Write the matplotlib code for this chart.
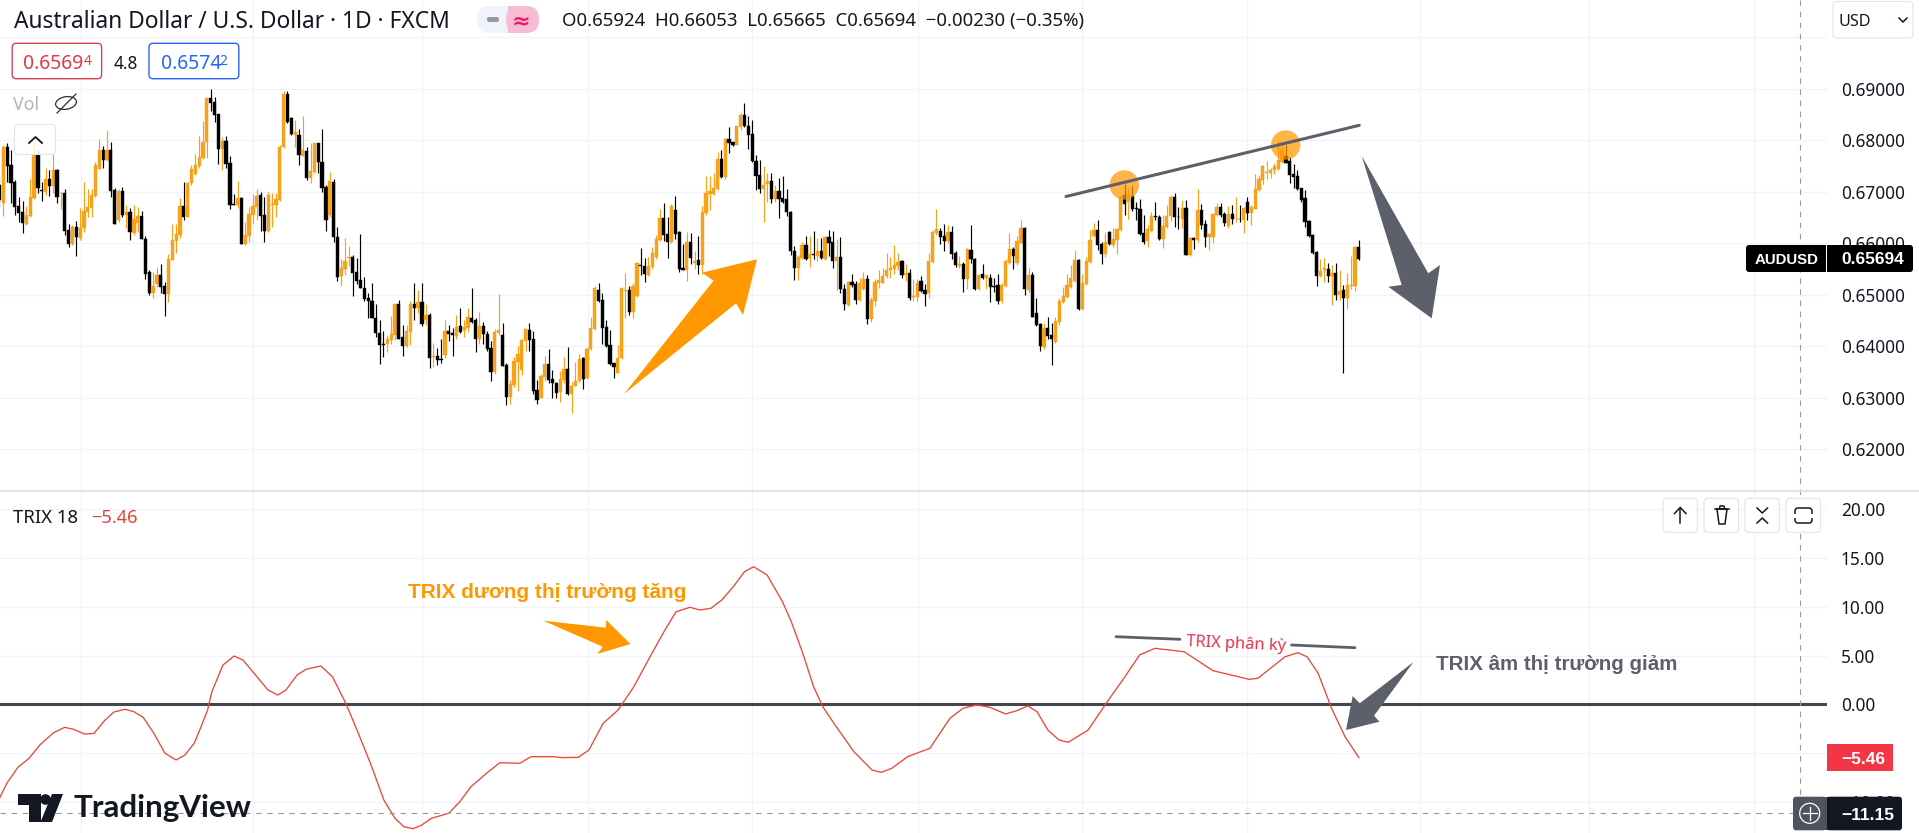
import matplotlib
matplotlib.use("Agg")
import matplotlib.pyplot as plt
import numpy as np
from matplotlib.patches import Circle, Ellipse, FancyBboxPatch, Polygon, Rectangle

plt.rcParams["font.family"] = ["Noto Sans", "DejaVu Sans"]

W, H = 1919, 833

# AUDUSD daily candles, in 1/10000 of a dollar
opens = [
    6713, 6679, 6787, 6752, 6718, 6672, 6660, 6638, 6653, 6687,
    6771, 6703, 6699, 6725, 6711, 6742, 6697, 6697, 6626, 6598,
    6631, 6611, 6629, 6661, 6668, 6692, 6745, 6781, 6761, 6781,
    6703, 6645, 6701, 6655, 6660, 6619, 6640, 6653, 6609, 6545,
    6503, 6520, 6538, 6517, 6501, 6567, 6604, 6616, 6672, 6651,
    6716, 6735, 6750, 6766, 6796, 6882, 6875, 6850, 6783, 6798,
    6755, 6677, 6675, 6687, 6598, 6614, 6655, 6671, 6693, 6655,
    6624, 6675, 6674, 6684, 6786, 6889, 6844, 6810, 6811, 6770,
    6780, 6726, 6739, 6794, 6757, 6710, 6654, 6718, 6613, 6536,
    6550, 6571, 6574, 6544, 6529, 6514, 6494, 6488, 6455, 6426,
    6404, 6404, 6412, 6422, 6482, 6418, 6401, 6428, 6482, 6474,
    6486, 6450, 6461, 6380, 6381, 6375, 6383, 6430, 6425, 6420,
    6439, 6432, 6436, 6455, 6450, 6414, 6439, 6424, 6397, 6350,
    6425, 6422, 6364, 6302, 6325, 6370, 6354, 6411, 6432, 6414,
    6315, 6300, 6340, 6366, 6336, 6328, 6312, 6335, 6355, 6307,
    6322, 6333, 6377, 6338, 6394, 6434, 6509, 6490, 6437, 6403,
    6368, 6349, 6377, 6508, 6509, 6467, 6498, 6557, 6556, 6539,
    6553, 6574, 6607, 6649, 6618, 6602, 6665, 6621, 6552, 6548,
    6602, 6562, 6568, 6558, 6658, 6696, 6695, 6706, 6764, 6728,
    6803, 6796, 6791, 6825, 6848, 6828, 6812, 6760, 6733, 6706,
    6715, 6721, 6686, 6702, 6687, 6685, 6661, 6585, 6552, 6571,
    6597, 6571, 6579, 6576, 6585, 6569, 6612, 6603, 6565, 6574,
    6512, 6480, 6524, 6521, 6489, 6511, 6530, 6453, 6488, 6522,
    6523, 6536, 6548, 6550, 6555, 6566, 6539, 6543, 6496, 6495,
    6526, 6509, 6504, 6564, 6619, 6624, 6614, 6604, 6621, 6581,
    6555, 6559, 6531, 6587, 6570, 6511, 6540, 6532, 6533, 6516,
    6518, 6488, 6517, 6562, 6588, 6562, 6601, 6630, 6510, 6538,
    6464, 6443, 6399, 6436, 6422, 6409, 6447, 6486, 6495, 6515,
    6527, 6567, 6472, 6520, 6564, 6614, 6626, 6599, 6579, 6621,
    6597, 6606, 6626, 6694, 6681, 6692, 6668, 6666, 6619, 6605,
    6624, 6652, 6650, 6608, 6632, 6652, 6689, 6651, 6647, 6668,
    6577, 6611, 6606, 6664, 6637, 6613, 6613, 6655, 6670, 6657,
    6633, 6657, 6647, 6648, 6646, 6681, 6658, 6666, 6703, 6723,
    6736, 6737, 6742, 6745, 6758, 6769, 6760, 6734, 6730, 6707,
    6687, 6644, 6616, 6583, 6536, 6549, 6550, 6537, 6543, 6499,
    6509, 6493, 6517, 6517, 6593,
]
highs = [
    6730, 6790, 6794, 6781, 6722, 6690, 6682, 6673, 6725, 6797,
    6781, 6719, 6747, 6742, 6774, 6745, 6700, 6706, 6638, 6635,
    6643, 6668, 6718, 6705, 6706, 6757, 6803, 6789, 6820, 6796,
    6708, 6706, 6710, 6674, 6668, 6674, 6671, 6662, 6615, 6548,
    6545, 6554, 6559, 6525, 6580, 6638, 6638, 6687, 6718, 6719,
    6752, 6774, 6809, 6837, 6882, 6900, 6883, 6850, 6807, 6808,
    6770, 6695, 6721, 6689, 6642, 6671, 6695, 6706, 6699, 6690,
    6699, 6697, 6697, 6790, 6895, 6896, 6846, 6839, 6821, 6847,
    6787, 6795, 6797, 6795, 6821, 6713, 6739, 6724, 6632, 6569,
    6611, 6595, 6577, 6571, 6618, 6534, 6503, 6522, 6482, 6451,
    6430, 6422, 6459, 6482, 6490, 6441, 6441, 6487, 6522, 6509,
    6522, 6482, 6464, 6406, 6396, 6415, 6451, 6441, 6435, 6461,
    6475, 6450, 6475, 6513, 6454, 6466, 6448, 6430, 6410, 6433,
    6502, 6445, 6367, 6335, 6380, 6401, 6415, 6435, 6445, 6430,
    6335, 6346, 6381, 6394, 6354, 6330, 6351, 6379, 6399, 6331,
    6370, 6385, 6380, 6399, 6456, 6516, 6522, 6503, 6451, 6432,
    6368, 6403, 6513, 6542, 6517, 6522, 6564, 6590, 6571, 6574,
    6592, 6616, 6666, 6678, 6650, 6676, 6692, 6623, 6599, 6621,
    6620, 6584, 6614, 6673, 6731, 6731, 6736, 6777, 6781, 6805,
    6825, 6796, 6828, 6852, 6872, 6847, 6839, 6772, 6762, 6749,
    6736, 6736, 6713, 6726, 6731, 6705, 6663, 6595, 6577, 6603,
    6614, 6615, 6623, 6610, 6610, 6614, 6625, 6623, 6609, 6612,
    6520, 6527, 6540, 6527, 6533, 6544, 6538, 6495, 6530, 6549,
    6551, 6581, 6574, 6596, 6582, 6567, 6559, 6550, 6531, 6531,
    6536, 6521, 6581, 6625, 6667, 6629, 6638, 6635, 6633, 6585,
    6575, 6564, 6590, 6635, 6572, 6540, 6559, 6538, 6541, 6533,
    6540, 6522, 6570, 6620, 6592, 6614, 6645, 6632, 6553, 6544,
    6494, 6445, 6446, 6456, 6445, 6457, 6493, 6515, 6540, 6557,
    6587, 6570, 6540, 6574, 6625, 6639, 6645, 6603, 6622, 6624,
    6629, 6629, 6694, 6715, 6708, 6711, 6681, 6686, 6655, 6635,
    6661, 6681, 6655, 6655, 6674, 6694, 6698, 6671, 6684, 6684,
    6613, 6613, 6705, 6676, 6645, 6619, 6658, 6679, 6679, 6661,
    6672, 6674, 6689, 6674, 6670, 6689, 6674, 6734, 6732, 6752,
    6760, 6747, 6755, 6800, 6797, 6791, 6768, 6754, 6743, 6708,
    6703, 6646, 6617, 6584, 6569, 6571, 6562, 6558, 6561, 6548,
    6519, 6542, 6575, 6595, 6606,
]
lows = [
    6670, 6653, 6719, 6679, 6655, 6642, 6620, 6635, 6650, 6686,
    6697, 6682, 6693, 6692, 6697, 6679, 6667, 6616, 6593, 6596,
    6576, 6607, 6622, 6651, 6651, 6690, 6745, 6747, 6759, 6690,
    6637, 6642, 6651, 6630, 6606, 6616, 6622, 6608, 6530, 6499,
    6493, 6515, 6503, 6459, 6486, 6567, 6582, 6611, 6645, 6650,
    6714, 6732, 6747, 6763, 6765, 6857, 6836, 6754, 6742, 6747,
    6666, 6674, 6669, 6598, 6596, 6603, 6638, 6645, 6624, 6602,
    6622, 6632, 6651, 6682, 6785, 6833, 6810, 6787, 6752, 6769,
    6723, 6717, 6736, 6736, 6700, 6624, 6651, 6603, 6527, 6516,
    6538, 6556, 6498, 6521, 6514, 6487, 6455, 6454, 6417, 6366,
    6380, 6388, 6404, 6412, 6414, 6382, 6399, 6403, 6451, 6464,
    6439, 6441, 6357, 6359, 6364, 6367, 6378, 6410, 6381, 6414,
    6425, 6417, 6428, 6445, 6388, 6404, 6404, 6390, 6333, 6346,
    6422, 6362, 6286, 6288, 6320, 6314, 6344, 6390, 6390, 6307,
    6288, 6300, 6333, 6328, 6299, 6299, 6291, 6328, 6306, 6271,
    6322, 6331, 6317, 6336, 6393, 6432, 6486, 6404, 6399, 6364,
    6339, 6348, 6375, 6454, 6461, 6454, 6496, 6539, 6524, 6537,
    6550, 6569, 6605, 6605, 6572, 6600, 6608, 6545, 6548, 6527,
    6560, 6550, 6541, 6540, 6655, 6665, 6693, 6704, 6726, 6725,
    6776, 6788, 6790, 6820, 6825, 6783, 6757, 6704, 6698, 6642,
    6680, 6679, 6680, 6649, 6679, 6652, 6577, 6528, 6528, 6570,
    6568, 6553, 6570, 6566, 6570, 6567, 6575, 6551, 6509, 6504,
    6470, 6478, 6515, 6482, 6488, 6509, 6443, 6447, 6478, 6513,
    6522, 6533, 6533, 6541, 6548, 6533, 6527, 6489, 6488, 6488,
    6506, 6478, 6494, 6562, 6616, 6598, 6585, 6601, 6570, 6553,
    6551, 6506, 6512, 6562, 6510, 6510, 6530, 6512, 6486, 6506,
    6482, 6484, 6515, 6559, 6550, 6557, 6601, 6499, 6506, 6456,
    6439, 6390, 6394, 6415, 6363, 6407, 6441, 6483, 6493, 6513,
    6525, 6471, 6470, 6519, 6562, 6613, 6587, 6560, 6574, 6597,
    6593, 6580, 6624, 6655, 6648, 6663, 6646, 6616, 6598, 6593,
    6622, 6645, 6607, 6590, 6629, 6644, 6631, 6627, 6629, 6577,
    6576, 6589, 6603, 6627, 6593, 6587, 6600, 6653, 6650, 6633,
    6629, 6637, 6642, 6642, 6620, 6645, 6635, 6666, 6702, 6715,
    6724, 6726, 6734, 6743, 6756, 6755, 6716, 6707, 6703, 6681,
    6632, 6613, 6580, 6516, 6535, 6525, 6525, 6480, 6490, 6490,
    6349, 6472, 6511, 6508, 6567,
]
closes = [
    6684, 6787, 6750, 6717, 6671, 6659, 6640, 6655, 6690, 6774,
    6708, 6701, 6724, 6712, 6742, 6690, 6698, 6624, 6599, 6632,
    6613, 6630, 6662, 6671, 6693, 6752, 6781, 6761, 6781, 6701,
    6638, 6701, 6655, 6661, 6621, 6648, 6653, 6609, 6541, 6503,
    6517, 6538, 6515, 6501, 6569, 6606, 6618, 6672, 6651, 6717,
    6744, 6752, 6768, 6797, 6882, 6873, 6849, 6783, 6798, 6754,
    6675, 6675, 6687, 6598, 6616, 6656, 6673, 6692, 6653, 6624,
    6693, 6676, 6685, 6787, 6889, 6836, 6813, 6816, 6771, 6781,
    6726, 6741, 6794, 6757, 6708, 6645, 6720, 6613, 6535, 6551,
    6566, 6573, 6543, 6527, 6514, 6492, 6487, 6454, 6425, 6403,
    6403, 6415, 6424, 6482, 6415, 6401, 6430, 6482, 6475, 6486,
    6443, 6461, 6378, 6381, 6373, 6373, 6430, 6424, 6421, 6438,
    6428, 6438, 6456, 6447, 6415, 6439, 6423, 6395, 6350, 6428,
    6432, 6362, 6302, 6327, 6371, 6385, 6412, 6433, 6412, 6314,
    6295, 6342, 6366, 6335, 6328, 6310, 6336, 6355, 6307, 6323,
    6333, 6375, 6337, 6395, 6435, 6513, 6487, 6435, 6401, 6365,
    6359, 6377, 6513, 6509, 6467, 6516, 6561, 6556, 6541, 6555,
    6581, 6608, 6649, 6616, 6603, 6673, 6618, 6550, 6549, 6602,
    6571, 6566, 6558, 6660, 6697, 6702, 6707, 6764, 6728, 6803,
    6795, 6791, 6827, 6848, 6827, 6810, 6759, 6731, 6706, 6713,
    6721, 6686, 6702, 6686, 6681, 6660, 6584, 6552, 6574, 6597,
    6570, 6579, 6578, 6585, 6572, 6612, 6601, 6565, 6574, 6511,
    6482, 6525, 6519, 6490, 6523, 6530, 6453, 6489, 6524, 6528,
    6537, 6549, 6551, 6557, 6563, 6539, 6543, 6493, 6497, 6523,
    6508, 6502, 6566, 6622, 6627, 6612, 6605, 6621, 6580, 6557,
    6559, 6530, 6588, 6569, 6512, 6538, 6532, 6538, 6515, 6515,
    6488, 6519, 6566, 6588, 6575, 6605, 6630, 6511, 6538, 6457,
    6441, 6400, 6436, 6420, 6414, 6449, 6488, 6497, 6519, 6532,
    6567, 6472, 6523, 6565, 6606, 6626, 6597, 6580, 6603, 6598,
    6608, 6628, 6690, 6677, 6693, 6666, 6667, 6618, 6603, 6627,
    6653, 6650, 6608, 6633, 6653, 6690, 6650, 6650, 6668, 6577,
    6611, 6606, 6664, 6635, 6613, 6618, 6657, 6670, 6655, 6640,
    6656, 6647, 6648, 6647, 6668, 6659, 6670, 6705, 6724, 6749,
    6739, 6743, 6750, 6762, 6782, 6756, 6732, 6729, 6705, 6683,
    6642, 6614, 6582, 6537, 6546, 6551, 6537, 6543, 6499, 6507,
    6493, 6519, 6519, 6593, 6569,
]

# TRIX line vertices: bar number and value
trix_bar = [
    0, 1.9, 4.8, 7.7, 10.5, 14.1, 17, 19.3, 22.2, 24.6, 27.5, 29.8, 32.7, 35,
    37.4, 40.2, 43.1, 46, 48.3, 50.7, 52.5, 54.2, 55.3, 58.2, 61.1, 63.4, 66.3,
    69.9, 72.5, 74.6, 77.5, 79.8, 83.7, 86.7, 90.2, 93.1, 96.6, 100.1, 103,
    105.3, 107.7, 110, 112.4, 117, 119.9, 122.8, 126.8, 130.3, 135.5, 138.4,
    144.3, 146.6, 150.7, 153.5, 157.2, 161.1, 165.2, 169.9, 173.3, 176.2, 179.8,
    182.4, 185.3, 188.1, 191.1, 194, 196.4, 199.9, 203.9, 206.2, 209.2, 212,
    214.4, 217.3, 222.5, 227.2, 229.6, 232.4, 236.5, 242.3, 247.5, 250.9, 254.5,
    257.9, 262, 264.9, 267.8, 270.2, 273, 275.9, 278.3, 283.5, 288.8, 292.8,
    296.9, 300.9, 308.5, 316, 325.4, 327.7, 334.8, 338.1, 340.5, 343.4, 346.9,
    350.4, 354,
]
trix_val = [
    -9.64, -8.1, -6.46, -5.54, -4.17, -2.91, -2.36, -2.57, -3.05, -2.98, -1.61,
    -0.79, -0.51, -0.76, -1.33, -2.97, -5.03, -5.71, -5.2, -4.0, -2.3, -0.58,
    1.29, 4.03, 4.95, 4.54, 3.18, 1.47, 0.95, 1.47, 3.0, 3.59, 3.93, 2.83, 0.1,
    -2.64, -6.05, -9.82, -11.7, -12.55, -12.76, -12.38, -11.7, -11.18, -9.98,
    -8.45, -7.08, -5.99, -6.05, -5.37, -5.37, -5.47, -5.44, -4.69, -1.95, -0.58,
    1.81, 5.23, 7.62, 9.5, 9.95, 9.67, 9.85, 10.7, 12.06, 13.6, 14.11, 13.26,
    10.52, 8.47, 5.23, 1.81, -0.25, -1.95, -4.86, -6.74, -6.98, -6.56, -5.37,
    -4.51, -1.44, -0.41, -0.07, -0.31, -0.99, -0.66, -0.17, -0.76, -2.64, -3.66,
    -3.9, -2.64, 0.44, 2.67, 5.06, 5.74, 5.39, 3.45, 2.56, 2.67, 4.88, 5.29,
    4.88, 3.18, -0.41, -3.32, -5.46,
]

grid_bars = [21.1, 66.1, 110.1, 153.2, 196, 239.1, 281.9, 324.9, 369.9, 413.9, 456.9]
price_ticks = [0.69, 0.68, 0.67, 0.66, 0.65, 0.64, 0.63, 0.62]
trix_ticks = [20, 15, 10, 5, 0]
trix_grid = [20, 15, 10, 5, 0, -5, -10]

ORANGE = "#f7a21b"
ARROW_ORANGE = "#ff9800"
SLATE = "#5d606b"
INK = "#131722"
GRID = "#f0f3fa"
RED = "#f23645"
BLUE = "#2962ff"
BOLD = "Liberation Sans"

fig = plt.figure(figsize=(W / 100, H / 100), dpi=100, facecolor="white")

PANE_R = 1826.7
SEP_Y = 490.7
BAR_PX = 3.84
BAR0_PX = -0.51
xlim = ((0 - BAR0_PX) / BAR_PX, (PANE_R - BAR0_PX) / BAR_PX)

# price pane
ax = fig.add_axes([0, 1 - SEP_Y / H, PANE_R / W, SEP_Y / H])
ax.set_xlim(xlim)
ax.set_ylim(0.69 - (SEP_Y - 88.7) / 5151, 0.69 + 88.7 / 5151)
ax.axis("off")
for p in price_ticks + [0.70]:
    ax.axhline(p, color=GRID, lw=0.9, zorder=1)
for b in grid_bars:
    ax.axvline(b, color=GRID, lw=0.9, zorder=1)

o = np.array(opens) / 10000
h = np.array(highs) / 10000
l = np.array(lows) / 10000
c = np.array(closes) / 10000
bars = np.arange(len(o))
colors = [ORANGE if cc >= oo else "black" for oo, cc in zip(o, c)]
ax.vlines(bars, l, h, colors=colors, lw=0.85, zorder=2)
ax.bar(bars, np.abs(c - o), bottom=np.minimum(o, c), width=0.84, color=colors,
       edgecolor=colors, lw=0.3, zorder=3)

# TRIX pane
ax2 = fig.add_axes([0, 0, PANE_R / W, (H - SEP_Y - 1.5) / H])
ax2.set_xlim(xlim)
ax2.set_ylim((704.3 - H) / 9.75, (704.3 - SEP_Y - 1.5) / 9.75)
ax2.axis("off")
for v in trix_grid:
    ax2.axhline(v, color=GRID, lw=0.9, zorder=1)
for b in grid_bars:
    ax2.axvline(b, color=GRID, lw=0.9, zorder=1)
ax2.plot(trix_bar, trix_val, color="#e8483b", lw=0.95, zorder=3)
ax2.axhline(0, color="#434651", lw=2.2, zorder=2)

# everything else sits on a pixel overlay
ov = fig.add_axes([0, 0, 1, 1], facecolor="none", zorder=5)
ov.set_xlim(0, W)
ov.set_ylim(H, 0)
ov.axis("off")


def txt(x, y, s, size=12.4, color=INK, ha="left", weight="normal", rot=0, font=None, z=8):
    kw = {"family": font} if font else {}
    return ov.text(x, y, s, fontsize=size, color=color, ha=ha, va="center_baseline",
                   fontweight=weight, rotation=rot, rotation_mode="anchor", zorder=z, **kw)


def rbox(x0, y0, x1, y1, fc="white", ec="#e0e3eb", lw=0.8, r=4, z=6):
    ov.add_patch(FancyBboxPatch((x0 + r, y0 + r), x1 - x0 - 2 * r, y1 - y0 - 2 * r,
                                boxstyle=f"round,pad={r},rounding_size={r}", fc=fc, ec=ec, lw=lw, zorder=z))


# crosshair
ov.plot([1800.4, 1800.4], [0, 797], color="#9598a1", lw=0.8, dashes=(5, 5), zorder=4)
ov.plot([0, 1793], [813.3, 813.3], color="#9598a1", lw=0.8, dashes=(5, 5), zorder=4)

# pane separator
ov.add_patch(Rectangle((0, 489.7), W, 2.2, fc="#e0e3eb", ec="none", zorder=4))

# header
txt(13.5, 19, "Australian Dollar / U.S. Dollar · 1D · FXCM", size=16.4)
ov.add_patch(FancyBboxPatch((484, 13), 48, 13, boxstyle="round,pad=7,rounding_size=13",
                            fc="#f0f3fa", ec="none", zorder=5))
ov.add_patch(FancyBboxPatch((513, 13), 19, 13, boxstyle="round,pad=7,rounding_size=13",
                            fc="#f7bbd3", ec="none", zorder=6))
ov.add_patch(Rectangle((508, 6), 12, 27, fc="#f7bbd3", ec="none", zorder=6))
ov.add_patch(FancyBboxPatch((488, 18), 10, 3, boxstyle="round,pad=1,rounding_size=2",
                            fc="#9598a1", ec="none", zorder=7))
txt(521, 19, "≈", size=16, color="#e91e63", ha="center", weight="bold", font="DejaVu Sans")
txt(562.5, 19, "O0.65924  H0.66053  L0.65665  C0.65694  −0.00230 (−0.35%)", size=13.4)

# bid / ask boxes
rbox(12.2, 43.3, 101.6, 78.7, ec="#d9404f", lw=1.0)
txt(23.5, 61.5, "0.6569", size=13.9, color="#e0394a")
txt(83.4, 59.5, "4", size=10, color="#e0394a")
txt(114, 62, "4.8", size=12.4)
rbox(149, 43.3, 238.8, 78.7, ec=BLUE, lw=1.0)
txt(160.5, 61.5, "0.6574", size=13.9, color=BLUE)
txt(219.5, 59.5, "2", size=10, color=BLUE)

# Vol row
txt(13, 103, "Vol", size=12.8, color="#b2b5be")
ov.add_patch(Ellipse((66, 103), 21, 12.5, angle=-10, fc="none", ec="#2a2e39", lw=0.9, zorder=8))
ov.plot([57, 76], [113, 94], color="#2a2e39", lw=0.9, zorder=8)
rbox(14.5, 124.5, 55.5, 154.5, fc="#ffffffcc", ec="#e0e3eb", lw=0.8)
ov.plot([29, 35.5, 42], [143, 137, 143], color="#131722", lw=1.3, zorder=8)

# right scale, price
for p in price_ticks:
    y = 88.7 + (0.69 - p) * 5151
    txt(1841, y, f"{p:.5f}", z=3)
rbox(1833, 1.5, 1913, 38, ec="#e0e3eb")
txt(1838.5, 19.5, "USD", size=11.6)
ov.plot([1899, 1903, 1907], [18, 22, 18], color=INK, lw=1.1, zorder=8)
ov.add_patch(FancyBboxPatch((1749, 248), 74, 21, boxstyle="round,pad=3,rounding_size=3",
                            fc="black", ec="none", zorder=6))
ov.add_patch(FancyBboxPatch((1830, 248), 80, 21, boxstyle="round,pad=3,rounding_size=3",
                            fc="black", ec="none", zorder=6))
ov.add_patch(Rectangle((1820, 245), 6, 26.7, fc="black", ec="none", zorder=6))
ov.add_patch(Rectangle((1827, 245), 6, 26.7, fc="black", ec="none", zorder=6))
txt(1755, 258.5, "AUDUSD", size=10.8, color="white", weight="bold", font=BOLD)
txt(1841, 258.5, "0.65694", size=12.5, color="white", weight="bold", font=BOLD)

# right scale, TRIX
for v in trix_ticks:
    y = 704.3 - v * 9.75
    txt(1841, y, f"{v:.2f}")
txt(1841, 802, "−10.00", z=3)
ov.add_patch(Rectangle((1827, 744), 65.7, 27, fc=RED, ec="none", zorder=6))
txt(1841, 757.5, "−5.46", size=12.5, color="white", weight="bold", font=BOLD)
ov.add_patch(FancyBboxPatch((1796, 799.7), 27, 27.6, boxstyle="round,pad=3,rounding_size=3",
                            fc="#50535e", ec="none", zorder=6))
ov.add_patch(Rectangle((1815, 796.7), 11.5, 33.6, fc="#50535e", ec="none", zorder=6))
ov.add_patch(Circle((1809.7, 813.3), 10, fc="none", ec="white", lw=0.9, zorder=7))
ov.plot([1803, 1816.5], [813.3, 813.3], color="white", lw=0.9, zorder=7)
ov.plot([1809.7, 1809.7], [806.5, 820], color="white", lw=0.9, zorder=7)
ov.add_patch(FancyBboxPatch((1830, 799.7), 69, 27.6, boxstyle="round,pad=3,rounding_size=3",
                            fc=INK, ec="none", zorder=6))
ov.add_patch(Rectangle((1827, 796.7), 6, 33.6, fc=INK, ec="none", zorder=6))
txt(1841, 813.5, "−11.15", size=12.5, color="white", weight="bold", font=BOLD)

# pane buttons
for x0 in [1663, 1704, 1745, 1786]:
    rbox(x0, 498.3, x0 + 34.5, 532.3, fc="white", ec="#e0e3eb", lw=0.8)
ov.plot([1680.3, 1680.3], [523, 508], color=INK, lw=1.1, zorder=8)
ov.plot([1674.5, 1680.3, 1686], [513.5, 507.5, 513.5], color=INK, lw=1.1, zorder=8)
ov.plot([1715, 1729], [508.5, 508.5], color=INK, lw=1.1, zorder=8)
ov.plot([1717, 1719, 1725, 1727, 1717], [509, 524, 524, 509, 509], color=INK, lw=1.1, zorder=8)
ov.plot([1719.5, 1720, 1724, 1724.5], [508.5, 506, 506, 508.5], color=INK, lw=1.1, zorder=8)
ov.plot([1757, 1762.3, 1767.5], [508, 513, 508], color=INK, lw=1.1, zorder=8)
ov.plot([1757, 1762.3, 1767.5], [523, 518, 523], color=INK, lw=1.1, zorder=8)
ov.add_patch(FancyBboxPatch((1798, 511), 11, 9, boxstyle="round,pad=3,rounding_size=3",
                            fc="none", ec=INK, lw=1.1, zorder=8))
ov.add_patch(Rectangle((1793, 513.5), 20, 4, fc="white", ec="none", zorder=9))

# TRIX legend
txt(13.4, 516, "TRIX 18", size=13.4)
txt(91.5, 516, "−5.46", size=13.1, color="#e0433a")

# TradingView logo
ov.add_patch(Polygon([(18, 794), (41, 794), (41, 822), (29, 822), (29, 805), (18, 805)], fc=INK, ec="none", zorder=8))
ov.add_patch(Circle((45.5, 799.5), 5.3, fc=INK, ec="none", zorder=8))
ov.add_patch(Polygon([(52, 794), (63, 794), (52, 822), (40.5, 822)], fc=INK, ec="none", zorder=8))
txt(73, 806, "TradingView", size=22.6, weight="bold", font="Lato")

# drawings on the chart
ov.add_patch(Polygon([(624, 394), (713.5, 280.7), (702, 272.7), (757, 259.3), (743, 315), (736, 303.3)],
                     fc=ARROW_ORANGE, ec="none", zorder=5))
ov.add_patch(Circle((1124.3, 185), 14.7, fc=ARROW_ORANGE, ec="none", alpha=0.72, zorder=5))
ov.add_patch(Circle((1285.7, 145), 14.7, fc=ARROW_ORANGE, ec="none", alpha=0.72, zorder=5))
ov.plot([1066, 1359.3], [196.5, 125.3], color=SLATE, lw=2.2, solid_capstyle="round", zorder=5)
ov.add_patch(Polygon([(1361.7, 156), (1428.3, 273.3), (1440, 265), (1431.7, 318.3), (1388.3, 286.7), (1401.7, 285)],
                     fc=SLATE, ec="none", zorder=5))
ov.add_patch(Polygon([(543.3, 620.7), (605.8, 627.7), (606.3, 620), (630.4, 644), (597.3, 654), (602.7, 646.7)],
                     fc=ARROW_ORANGE, ec="none", zorder=5))
ov.add_patch(Polygon([(1413.5, 662), (1374, 715.7), (1379.5, 721.7), (1346, 730), (1352.7, 696), (1359.8, 703.3)],
                     fc=SLATE, ec="none", zorder=5))
ov.plot([1116, 1180], [636.7, 639.3], color=SLATE, lw=2.0, solid_capstyle="round", zorder=5)
ov.plot([1291.5, 1355], [645, 647.7], color=SLATE, lw=2.0, solid_capstyle="round", zorder=5)
txt(1186, 640.5, "TRIX phân kỳ", size=11.8, color="#e5304f", rot=-2.6)
txt(408, 590, "TRIX dương thị trường tăng", size=15, color=ARROW_ORANGE, weight="bold", font=BOLD)
txt(1435.5, 662, "TRIX âm thị trường giảm", size=14.8, color=SLATE, weight="bold", font=BOLD)

fig.savefig("out.png", dpi=100)
